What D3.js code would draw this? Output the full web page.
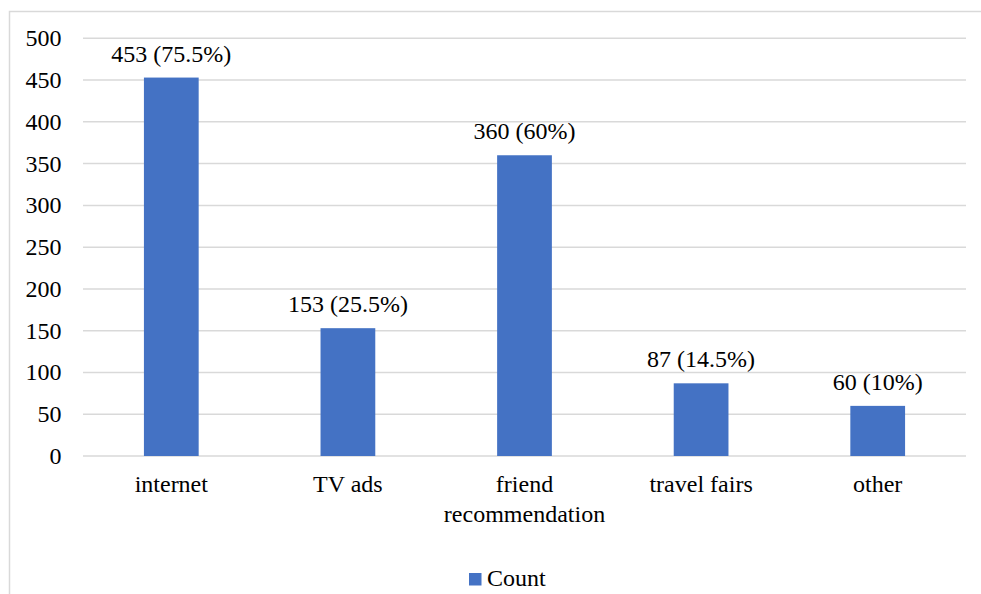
<!DOCTYPE html>
<html>
<head>
<meta charset="utf-8">
<script src="https://cdn.jsdelivr.net/npm/d3@7"></script>
<style>
  html, body { margin: 0; padding: 0; background: #fff; }
  svg { display: block; }
</style>
</head>
<body>
<svg id="chart" width="981" height="594"></svg>
<script>
// Source of information about destinations
const categories = [["internet"], ["TV ads"], ["friend", "recommendation"], ["travel fairs"], ["other"]];
const counts = [453, 153, 360, 87, 60];
const percents = ["75.5%", "25.5%", "60%", "14.5%", "10%"];
const yTicks = [0, 50, 100, 150, 200, 250, 300, 350, 400, 450, 500];
const seriesName = "Count";

const W = 981, H = 594;
const plot = { left: 83, right: 966, top: 38.3, bottom: 456 };
const barColor = "#4472C4";
const gridColor = "#d9d9d9";

const svg = d3.select("#chart");

// every label uses the same serif face
function addText(parent) {
  return parent.append("text")
    .style("font-family", "Liberation Serif")
    .style("font-size", "24px");
}

// chart frame (top and left edges visible)
svg.append("path")
  .attr("d", `M9.5,${H} V11.5 H${W}`)
  .attr("fill", "none")
  .attr("stroke", gridColor)
  .attr("stroke-width", 1.5);

const x = d3.scaleBand()
  .domain(d3.range(categories.length))
  .range([plot.left, plot.right])
  .paddingInner(0.69)
  .paddingOuter(0.345);

const y = d3.scaleLinear()
  .domain([0, 500])
  .range([plot.bottom, plot.top]);

// horizontal gridlines
yTicks.forEach(t => {
  svg.append("line")
    .attr("x1", plot.left)
    .attr("x2", plot.right)
    .attr("y1", y(t))
    .attr("y2", y(t))
    .attr("stroke", gridColor)
    .attr("stroke-width", 1.5);
});

// y tick labels
yTicks.forEach(t => {
  addText(svg)
    .attr("x", 61.5)
    .attr("y", y(t))
    .attr("dy", "0.33em")
    .attr("text-anchor", "end")
    .text(t);
});

// bars and value labels
counts.forEach((v, i) => {
  svg.append("rect")
    .attr("x", x(i))
    .attr("width", x.bandwidth())
    .attr("y", y(v))
    .attr("height", y(0) - y(v))
    .attr("fill", barColor);
  addText(svg)
    .attr("x", x(i) + x.bandwidth() / 2)
    .attr("y", y(v) - 16)
    .attr("text-anchor", "middle")
    .text(`${v} (${percents[i]})`);
});

// category labels (multi-line where needed)
categories.forEach((lines, i) => {
  lines.forEach((line, j) => {
    addText(svg)
      .attr("x", x(i) + x.bandwidth() / 2)
      .attr("y", 492 + j * 30)
      .attr("text-anchor", "middle")
      .text(line);
  });
});

// legend
svg.append("rect")
  .attr("x", 469)
  .attr("y", 573)
  .attr("width", 12.5)
  .attr("height", 12.5)
  .attr("fill", barColor);
addText(svg)
  .attr("x", 487)
  .attr("y", 586)
  .text(seriesName);
</script>
</body>
</html>
